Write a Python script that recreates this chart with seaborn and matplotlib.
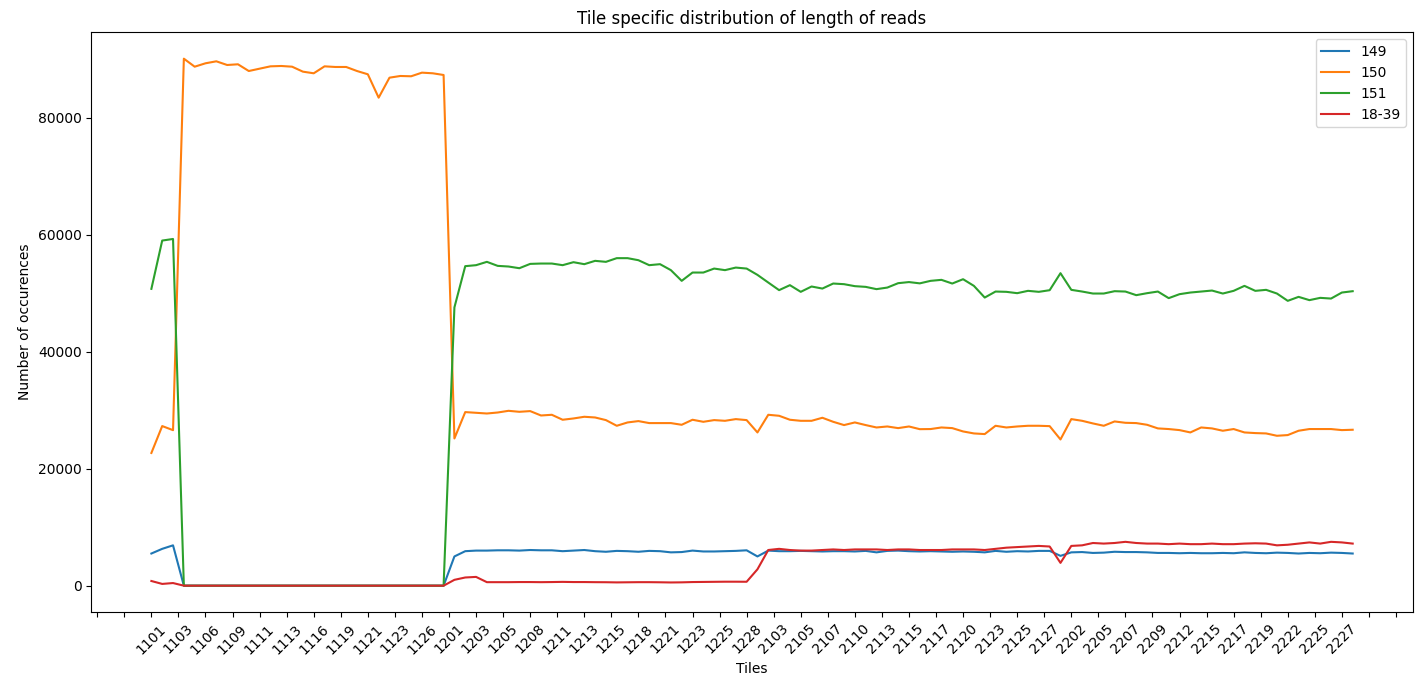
import matplotlib
matplotlib.use("Agg")
import matplotlib.pyplot as plt
from matplotlib.ticker import MultipleLocator, FuncFormatter
import seaborn as sns
import numpy as np

# Tile identifiers: lanes 1/2, surfaces 1/2, swaths 01..28
tiles = [f"{lane}{surf}{n:02d}" for lane in (1, 2) for surf in (1, 2) for n in range(1, 29)]

series_names = ["149", "150", "151", "18-39"]

len_149 = [5500, 6300, 6900] + [0] * 25 + [
    5000, 5900, 6000, 6000, 6050, 6050, 6000, 6100, 6050, 6050, 5900, 6000, 6100, 5900,
    5800, 5950, 5900, 5800, 5950, 5900, 5700, 5750, 6000, 5850, 5850, 5900, 5950, 6050,
    5000, 6000, 5900, 5900, 5950, 5900, 5850, 5900, 5900, 5850, 5950, 5700, 5950, 6000,
    5900, 5850, 5900, 5850, 5800, 5850, 5800, 5700, 5950, 5800, 5900, 5850, 5950, 5950,
    5100, 5700, 5750, 5600, 5650, 5800, 5750, 5750, 5700, 5600, 5600, 5550, 5600, 5550,
    5550, 5600, 5550, 5700, 5600, 5550, 5650, 5600, 5500, 5600, 5550, 5650, 5600, 5500]

len_150 = [
    22700, 27300, 26600, 90140, 88770, 89350, 89690, 89060, 89180, 88030, 88430, 88830,
    88890, 88770, 87920, 87640, 88830, 88720, 88720, 88030, 87470, 83470, 86890, 87180,
    87130, 87750, 87640, 87350,
    25180, 29690, 29570, 29450, 29620, 29910, 29740, 29860, 29110, 29230, 28380, 28600,
    28890, 28770, 28320, 27350, 27920, 28150, 27810, 27810, 27810, 27520, 28380, 28030,
    28320, 28200, 28490, 28320,
    26210, 29230, 29060, 28380, 28200, 28200, 28720, 28030, 27470, 27920, 27470, 27060,
    27230, 26950, 27230, 26770, 26790, 27060, 26950, 26380, 26040, 25930, 27350, 27060,
    27230, 27350, 27350, 27290,
    25010, 28490, 28200, 27750, 27350, 28090, 27860, 27810, 27520, 26900, 26790, 26610,
    26210, 27060, 26900, 26500, 26790, 26210, 26100, 26040, 25640, 25760, 26500, 26790,
    26790, 26790, 26610, 26670]

len_151 = [50770, 59030, 59300] + [0] * 25 + [
    47600, 54650, 54820, 55390, 54700, 54590, 54300, 55040, 55100, 55100, 54820, 55330,
    54990, 55560, 55390, 56020, 56020, 55670, 54820, 54990, 53970, 52140, 53560, 53560,
    54240, 53970, 54410, 54240,
    53160, 51850, 50550, 51400, 50260, 51170, 50820, 51680, 51570, 51230, 51110, 50720,
    50990, 51740, 51930, 51710, 52140, 52310, 51680, 52420, 51280, 49280, 50310, 50260,
    50030, 50430, 50260, 50540,
    53450, 50600, 50310, 49970, 49970, 50370, 50310, 49690, 50030, 50310, 49180, 49860,
    50140, 50310, 50480, 49970, 50430, 51280, 50430, 50600, 49970, 48720, 49400, 48840,
    49230, 49110, 50140, 50370]

len_18_39 = [800, 300, 450] + [0] * 25 + [
    1000, 1400, 1500, 600, 600, 600, 620, 620, 600, 620, 650, 620, 620, 600, 590, 560,
    580, 600, 600, 580, 550, 570, 620, 640, 660, 680, 680, 670,
    2800, 6100, 6300, 6100, 6000, 6000, 6100, 6200, 6100, 6200, 6200, 6200, 6100, 6200,
    6200, 6100, 6100, 6100, 6200, 6200, 6200, 6100, 6300, 6500, 6600, 6700, 6800, 6700,
    3900, 6800, 6900, 7300, 7200, 7300, 7500, 7300, 7200, 7200, 7100, 7200, 7100, 7100,
    7200, 7100, 7100, 7200, 7250, 7200, 6900, 7000, 7200, 7400, 7200, 7500, 7400, 7200]

series_values = [len_149, len_150, len_151, len_18_39]
colors = sns.color_palette("tab10", 4)

fig, ax = plt.subplots(figsize=(14.18, 6.82), dpi=100)
fig.subplots_adjust(left=0.0644, right=0.9963, top=0.9526, bottom=0.1026)

pos = np.arange(len(tiles))
for name, vals, col in zip(series_names, series_values, colors):
    sns.lineplot(x=pos, y=vals, ax=ax, color=col, label=name, linewidth=1.5)

ax.set_xlim(auto=True)
ax.margins(x=0.05, y=0.05)


def tile_label(x, _pos):
    i = int(round(x))
    if 0 <= i < len(tiles):
        return tiles[i]
    return ""


ax.xaxis.set_major_locator(MultipleLocator(2.5))
ax.xaxis.set_major_formatter(FuncFormatter(tile_label))
plt.setp(ax.get_xticklabels(), rotation=45)
ax.tick_params(labelsize=10)

ax.set_title("Tile specific distribution of length of reads", fontsize=12)
ax.set_xlabel("Tiles", fontsize=10)
ax.set_ylabel("Number of occurences", fontsize=10)
ax.legend(loc="upper right", fontsize=10)

fig.savefig("out.png", dpi=100)
